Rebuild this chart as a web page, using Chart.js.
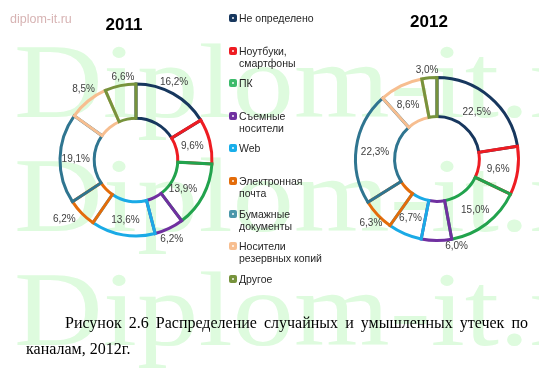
<!DOCTYPE html>
<html><head><meta charset="utf-8">
<script src="https://cdn.jsdelivr.net/npm/chart.js@4/dist/chart.umd.min.js"></script>
<style>
html,body{margin:0;padding:0;background:#fff;}
#wrap{position:relative;width:539px;height:377px;overflow:hidden;background:#fff;}
#wm{position:absolute;left:0;top:0;}
#site{position:absolute;left:10px;top:12px;font:12.5px "Liberation Sans",Arial,sans-serif;color:#d7b3b3;}
.title{position:absolute;font:bold 17px "Liberation Sans",Arial,sans-serif;color:#000;transform:translate(-50%,-50%);}
.chart{position:absolute;}
#legend{position:absolute;left:229px;top:0;}
.li{position:absolute;left:0;white-space:nowrap;font:10.5px "Liberation Sans",Arial,sans-serif;color:#262626;line-height:12px;}
.mk{position:absolute;left:0;top:2px;width:8px;height:8px;border-radius:2px;}
.mk::after{content:"";position:absolute;left:3px;top:3px;width:2px;height:2px;background:rgba(255,255,255,0.7);}
.lt{margin-left:10px;}
#cap{position:absolute;left:26px;top:310px;width:502px;font:16px "Liberation Serif","Times New Roman",serif;color:#000;line-height:26px;}
#cap1{text-align:justify;text-align-last:justify;padding-left:39px;}
</style></head><body>
<div id="wrap">
<canvas id="wm" width="539" height="377"></canvas>
<div id="site">diplom-it.ru</div>
<div class="title" style="left:124px;top:25px">2011</div>
<div class="title" style="left:429px;top:22px">2012</div>
<canvas id="c1" class="chart" width="220" height="220" style="left:26px;top:50px"></canvas>
<canvas id="c2" class="chart" width="240" height="240" style="left:317px;top:39px"></canvas>
<div id="legend"></div>
<div id="cap"><div id="cap1">Рисунок 2.6 Распределение случайных и умышленных утечек по</div><div>каналам, 2012г.</div></div>
</div>
<script>
// ---- data ----
const categories = ["Не определено","Ноутбуки,\nсмартфоны","ПК","Съемные\nносители","Web","Электронная\nпочта","Бумажные\nдокументы","Носители\nрезервных копий","Другое"];
const values2011 = [16.2, 9.6, 13.9, 6.2, 13.6, 6.2, 19.1, 8.5, 6.6];
const values2012 = [22.5, 9.6, 15.0, 6.0, 6.7, 6.3, 22.3, 8.6, 3.0];
const years = ["2011","2012"];

// ---- styles / layout ----
const colors = ["#17375E","#EE1C22","#22A34D","#7030A0","#1AAAE6","#E36C0A","#2F7590","#F7BE90","#77933C"];
const legendColors = ["#17375E","#EE1C22","#3DBB6B","#7030A0","#18AEEA","#E36C0A","#4A97AA","#F7BE90","#77933C"];
// label placement: radial factor (0=inner edge, 1=outer edge) and angle shift (deg)
const lblR2011 = [1.3, 0.47, 0.4, 1.32, 0.57, 1.49, 0.54, 1.35, 1.24];
const lblA2011 = [-3, 1, 4, 1.5, 0, 5, 0, 2.5, 3];
const lblR2012 = [0.48, 0.5, 0.56, 1.2, 0.57, 1.28, 0.51, 0.48, 1.2];
const lblA2012 = [0, 1, 1, -13, 1, -1, -2, -2, -1];

// watermark
(function(){
  const c = document.getElementById('wm').getContext('2d');
  c.fillStyle = 'rgb(222,251,222)';
  c.font = '106px "Liberation Serif", serif';
  c.textBaseline = 'alphabetic';
  [117, 231, 345].forEach(y => {
    c.save(); c.translate(14, y); c.scale(1.16, 1); c.fillText('Diplom-it.ru', 0, 0); c.restore();
  });
})();

// legend
(function(){
  const lg = document.getElementById('legend');
  categories.forEach((name, i) => {
    const d = document.createElement('div');
    d.className = 'li';
    d.style.top = (12 + i * 32.6) + 'px';
    const mk = document.createElement('div'); mk.className = 'mk'; mk.style.background = legendColors[i];
    d.appendChild(mk);
    const t = document.createElement('div'); t.className = 'lt';
    t.innerHTML = name.split('\n').join('<br>');
    d.appendChild(t);
    lg.appendChild(d);
  });
})();

const labelPlugin = {
  id: 'pctLabels',
  afterDatasetsDraw(chart, args, opts) {
    const ctx = chart.ctx;
    const meta = chart.getDatasetMeta(0);
    const data = chart.data.datasets[0].data;
    ctx.save();
    ctx.font = '10px "Liberation Sans", Arial, sans-serif';
    ctx.fillStyle = '#404040';
    ctx.textAlign = 'center';
    ctx.textBaseline = 'middle';
    meta.data.forEach((arc, i) => {
      const p = arc.getProps(['x','y','startAngle','endAngle','innerRadius','outerRadius'], true);
      const a = (p.startAngle + p.endAngle) / 2 + opts.ashift[i] * Math.PI / 180;
      const r = p.innerRadius + (p.outerRadius - p.innerRadius) * opts.rf[i];
      const txt = data[i].toFixed(1).replace('.', ',') + '%';
      ctx.fillText(txt, p.x + Math.cos(a) * r, p.y + Math.sin(a) * r);
    });
    ctx.restore();
  }
};

function makeChart(id, vals, pad, cutout, rf, ashift) {
  return new Chart(document.getElementById(id), {
    type: 'doughnut',
    data: {
      labels: categories.map(s => s.replace('\n', ' ')),
      datasets: [{
        data: vals,
        backgroundColor: 'rgba(255,255,255,0)',
        borderColor: colors,
        borderWidth: 3,
        borderAlign: 'center',
        borderJoinStyle: 'miter'
      }]
    },
    options: {
      responsive: false,
      animation: false,
      cutout: cutout,
      layout: { padding: pad },
      events: [],
      plugins: {
        legend: { display: false },
        tooltip: { enabled: false },
        title: { display: false },
        pctLabels: { rf: rf, ashift: ashift }
      }
    },
    plugins: [labelPlugin]
  });
}
makeChart('c1', values2011, 32.5, '55%', lblR2011, lblA2011);
makeChart('c2', values2012, 37, '52%', lblR2012, lblA2012);
</script>
</body></html>
